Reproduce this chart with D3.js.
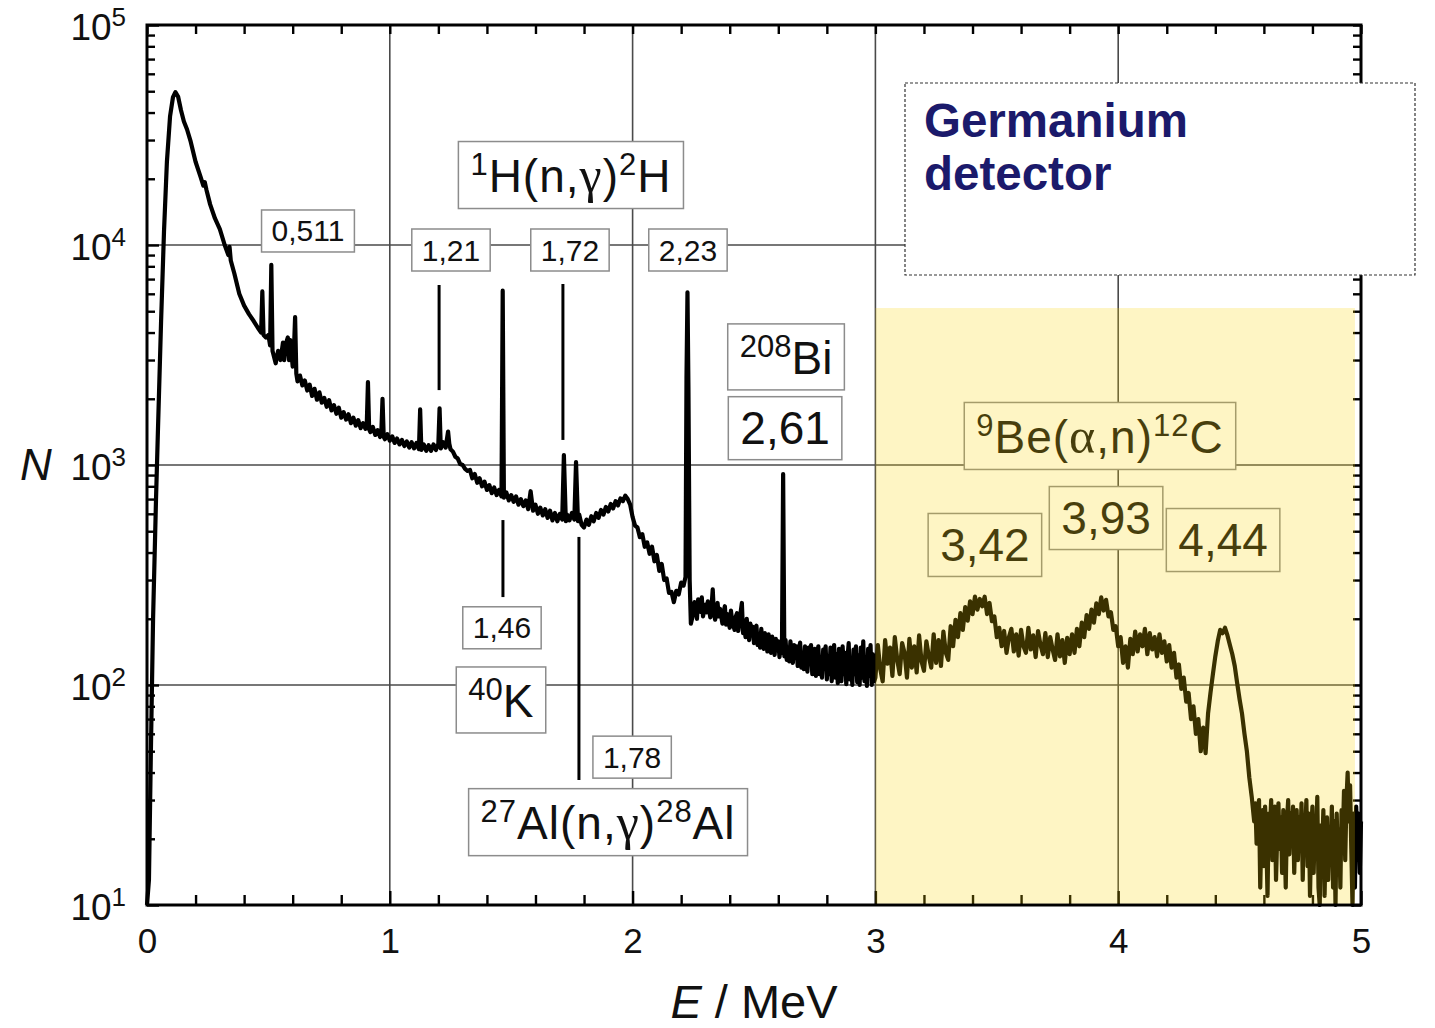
<!DOCTYPE html>
<html>
<head>
<meta charset="utf-8">
<script src="https://cdn.jsdelivr.net/npm/d3@7"></script>
<style>
  body { margin: 0; background: #fff; }
</style>
</head>
<body>
<svg id="chart" width="1435" height="1028"></svg>
<script>
// ---- data ----
const xTicks = [0, 1, 2, 3, 4, 5];
const xMinorTicks = [0.2, 0.4, 0.6, 0.8, 1.2, 1.4, 1.6, 1.8, 2.2, 2.4, 2.6, 2.8, 3.2, 3.4, 3.6, 3.8, 4.2, 4.4, 4.6, 4.8];
const yTicks = [10, 100, 1000, 10000, 100000];
const yTickExp = ["1", "2", "3", "4", "5"];

// spectrum [E in MeV, counts N]
const spectrumLow = [
  [0, 10], [0.008, 13], [0.016, 50], [0.025, 200], [0.037, 690], [0.045, 1430], [0.058, 4500],
  [0.07, 11500], [0.082, 23900], [0.095, 38500], [0.107, 47000], [0.117, 49500], [0.128, 47300],
  [0.14, 41000], [0.152, 36400], [0.165, 33500], [0.18, 29500], [0.2, 23900], [0.22, 20500],
  [0.232, 18600], [0.238, 19300], [0.245, 17800], [0.26, 15300], [0.28, 13200], [0.30, 11800],
  [0.32, 10000], [0.335, 9000], [0.34, 9800], [0.345, 8500], [0.36, 7400], [0.38, 6000],
  [0.40, 5300], [0.42, 4850], [0.44, 4500], [0.46, 4150], [0.47, 4000], [0.475, 6150],
  [0.48, 3900], [0.49, 3800], [0.50, 3900], [0.507, 3500], [0.512, 8130], [0.517, 3300],
  [0.52, 3200], [0.53, 2900], [0.54, 3300], [0.55, 3000], [0.56, 3600], [0.565, 3000],
  [0.57, 3500], [0.58, 3800], [0.585, 3000], [0.59, 3700], [0.60, 2800], [0.605, 3300],
  [0.61, 4700], [0.615, 2600], [0.62, 2400]
];
const spectrumMid = [
  [0.63, 2550], [0.64, 2300], [0.65, 2420], [0.66, 2180], [0.67, 2320], [0.68, 2060], [0.69, 2220],
  [0.70, 1980], [0.71, 2140], [0.72, 1920], [0.73, 2020], [0.74, 1840], [0.75, 1970], [0.76, 1770],
  [0.77, 1870], [0.78, 1710], [0.79, 1820], [0.80, 1640], [0.81, 1740], [0.82, 1610], [0.83, 1700],
  [0.84, 1550], [0.85, 1640], [0.86, 1510], [0.87, 1600], [0.88, 1470], [0.89, 1550], [0.90, 1460],
  [0.905, 1510], [0.91, 2380], [0.915, 1450], [0.92, 1410], [0.93, 1490], [0.94, 1370], [0.95, 1440],
  [0.96, 1340], [0.965, 1400], [0.97, 2000], [0.975, 1340], [0.98, 1310], [0.99, 1380], [1.00, 1290],
  [1.01, 1350], [1.02, 1260], [1.03, 1320], [1.04, 1240], [1.05, 1300], [1.06, 1220], [1.07, 1280],
  [1.08, 1200], [1.09, 1270], [1.10, 1190], [1.11, 1260], [1.12, 1180], [1.125, 1790], [1.13, 1170],
  [1.14, 1240], [1.15, 1160], [1.16, 1230], [1.17, 1160], [1.18, 1240], [1.19, 1170], [1.20, 1250],
  [1.205, 1810], [1.21, 1190], [1.22, 1270], [1.23, 1200], [1.24, 1420], [1.245, 1250], [1.25, 1180],
  [1.26, 1150], [1.27, 1090], [1.28, 1070], [1.29, 1010], [1.30, 1000], [1.31, 960], [1.32, 940],
  [1.33, 950], [1.34, 870], [1.35, 910], [1.36, 830], [1.37, 870], [1.38, 800], [1.39, 840],
  [1.40, 770], [1.41, 810], [1.42, 745], [1.43, 790], [1.44, 730], [1.45, 770], [1.46, 720],
  [1.465, 6200], [1.47, 710], [1.48, 750], [1.49, 690], [1.50, 730], [1.51, 680], [1.52, 720],
  [1.53, 660], [1.54, 700], [1.55, 650], [1.56, 690], [1.57, 630], [1.58, 760], [1.59, 620],
  [1.60, 660], [1.61, 600], [1.62, 640], [1.63, 590], [1.64, 630], [1.65, 575], [1.66, 620],
  [1.67, 560], [1.68, 605], [1.69, 555], [1.70, 600], [1.71, 565], [1.717, 1110], [1.725, 555],
  [1.73, 595], [1.74, 560], [1.75, 605], [1.76, 565], [1.767, 1030], [1.775, 555], [1.78, 595],
  [1.79, 535], [1.80, 520], [1.81, 565], [1.82, 535], [1.83, 585], [1.84, 555], [1.85, 605],
  [1.86, 575], [1.87, 625], [1.88, 595], [1.89, 645], [1.90, 615], [1.91, 665], [1.92, 635],
  [1.93, 685], [1.94, 655], [1.95, 705], [1.96, 685], [1.97, 725], [1.98, 700], [1.99, 660],
  [2.00, 580], [2.01, 530], [2.02, 520], [2.03, 470], [2.04, 485], [2.05, 425], [2.06, 445],
  [2.07, 395], [2.08, 425], [2.09, 365], [2.10, 390], [2.11, 330], [2.12, 355], [2.13, 300],
  [2.14, 305], [2.15, 262], [2.16, 265], [2.17, 238], [2.18, 268], [2.19, 258], [2.20, 292],
  [2.21, 283], [2.218, 310], [2.222, 2500], [2.226, 6100], [2.23, 2200], [2.235, 300], [2.24, 190]
];
const spectrumHigh = [
  [2.25, 212], [2.255, 238], [2.26, 228], [2.265, 200], [2.27, 245], [2.28, 215], [2.285, 250],
  [2.29, 205], [2.30, 232], [2.305, 214], [2.31, 240], [2.32, 203], [2.325, 226], [2.33, 272],
  [2.335, 210], [2.34, 198], [2.35, 236], [2.355, 205], [2.36, 222], [2.37, 190], [2.375, 215],
  [2.38, 228], [2.385, 188], [2.39, 210], [2.40, 182], [2.405, 218], [2.41, 196], [2.42, 178],
  [2.425, 205], [2.43, 212], [2.435, 176], [2.44, 195], [2.45, 236], [2.455, 172], [2.46, 190],
  [2.465, 165], [2.47, 200], [2.475, 175], [2.48, 160], [2.485, 190], [2.49, 168], [2.495, 184],
  [2.50, 155], [2.505, 178], [2.51, 186], [2.515, 152], [2.52, 170], [2.525, 148], [2.53, 180],
  [2.535, 158], [2.54, 146], [2.545, 172], [2.55, 164], [2.555, 142], [2.56, 170], [2.565, 150],
  [2.57, 140], [2.575, 166], [2.58, 155], [2.585, 137], [2.59, 162], [2.595, 146], [2.60, 158],
  [2.605, 134], [2.61, 150], [2.615, 140], [2.62, 910], [2.625, 135], [2.63, 160], [2.635, 130],
  [2.64, 148], [2.645, 128], [2.65, 158], [2.655, 140], [2.66, 126], [2.665, 152], [2.67, 135],
  [2.675, 150], [2.68, 122], [2.685, 144], [2.69, 156], [2.695, 120], [2.70, 140], [2.705, 118],
  [2.71, 150], [2.715, 130], [2.72, 115], [2.725, 148], [2.73, 125], [2.735, 152], [2.74, 112],
  [2.745, 138], [2.75, 146], [2.755, 110], [2.76, 132], [2.765, 150], [2.77, 112], [2.775, 128],
  [2.78, 108], [2.785, 145], [2.79, 120], [2.795, 150], [2.80, 106], [2.805, 135], [2.81, 112],
  [2.815, 148], [2.82, 104], [2.825, 130], [2.83, 152], [2.835, 108], [2.84, 138], [2.845, 102],
  [2.85, 146], [2.855, 118], [2.86, 104], [2.865, 150], [2.87, 112], [2.875, 140], [2.88, 101],
  [2.885, 132], [2.89, 155], [2.895, 106], [2.90, 128], [2.905, 100], [2.91, 145], [2.915, 112],
  [2.92, 150], [2.925, 103], [2.93, 136], [2.935, 100], [2.94, 148], [2.945, 108], [2.95, 158],
  [2.955, 104], [2.96, 130], [2.965, 99], [2.97, 146], [2.975, 110], [2.98, 152], [2.985, 100],
  [2.99, 138], [2.995, 104],
  [3.00, 108], [3.01, 152], [3.02, 118], [3.03, 104], [3.04, 160], [3.05, 125], [3.06, 148],
  [3.07, 110], [3.08, 165], [3.09, 130], [3.10, 112], [3.11, 155], [3.12, 140], [3.13, 108],
  [3.14, 162], [3.15, 120], [3.16, 150], [3.17, 114], [3.18, 168], [3.19, 128], [3.20, 116],
  [3.21, 158], [3.22, 135], [3.23, 120], [3.24, 170], [3.25, 126], [3.26, 160], [3.27, 122],
  [3.28, 175], [3.29, 140], [3.30, 130], [3.31, 185], [3.32, 150], [3.33, 198], [3.34, 165],
  [3.35, 212], [3.36, 178], [3.37, 226], [3.38, 196], [3.39, 240], [3.40, 210], [3.41, 252],
  [3.42, 220], [3.43, 246], [3.44, 228], [3.45, 252], [3.46, 210], [3.47, 236], [3.48, 195],
  [3.49, 205], [3.50, 165], [3.51, 182], [3.52, 150], [3.53, 176], [3.54, 140], [3.55, 165],
  [3.56, 180], [3.57, 142], [3.58, 170], [3.59, 136], [3.60, 178], [3.61, 150], [3.62, 140],
  [3.63, 182], [3.64, 145], [3.65, 168], [3.66, 134], [3.67, 176], [3.68, 152], [3.69, 138],
  [3.70, 172], [3.71, 134], [3.72, 165], [3.73, 145], [3.74, 130], [3.75, 170], [3.76, 135],
  [3.77, 160], [3.78, 126], [3.79, 164], [3.80, 138], [3.81, 170], [3.82, 140], [3.83, 180],
  [3.84, 150], [3.85, 192], [3.86, 165], [3.87, 208], [3.88, 180], [3.89, 220], [3.90, 192],
  [3.91, 235], [3.92, 210], [3.93, 250], [3.94, 218], [3.95, 244], [3.96, 205], [3.97, 214],
  [3.98, 178], [3.99, 185], [4.00, 150], [4.01, 165], [4.02, 126], [4.03, 150], [4.04, 120],
  [4.05, 162], [4.06, 138], [4.07, 175], [4.08, 142], [4.09, 170], [4.10, 150], [4.11, 180],
  [4.12, 138], [4.13, 172], [4.14, 145], [4.15, 165], [4.16, 135], [4.17, 170], [4.18, 140],
  [4.19, 158], [4.20, 128], [4.21, 152], [4.22, 120], [4.23, 140], [4.24, 108], [4.25, 124],
  [4.26, 96], [4.27, 108], [4.28, 84], [4.29, 92], [4.30, 70], [4.31, 80], [4.32, 60],
  [4.33, 70], [4.34, 50], [4.35, 64], [4.36, 49], [4.37, 74], [4.38, 92], [4.39, 112],
  [4.40, 135], [4.41, 158], [4.42, 178], [4.43, 172], [4.44, 182], [4.45, 168], [4.46, 152],
  [4.47, 138], [4.48, 122], [4.49, 102], [4.50, 86], [4.51, 74], [4.52, 60], [4.53, 50],
  [4.54, 38], [4.55, 31], [4.56, 24], [4.565, 29], [4.57, 19], [4.575, 26], [4.58, 30],
  [4.585, 12], [4.59, 22], [4.595, 27], [4.60, 15], [4.605, 28], [4.61, 20], [4.615, 11],
  [4.62, 26], [4.625, 22], [4.63, 30], [4.635, 16], [4.64, 24], [4.645, 28], [4.65, 13],
  [4.655, 21], [4.66, 29], [4.665, 18], [4.67, 25], [4.675, 14], [4.68, 27], [4.685, 22],
  [4.69, 12], [4.695, 24], [4.70, 30], [4.705, 17], [4.71, 26], [4.715, 20], [4.72, 28],
  [4.725, 14], [4.73, 23], [4.735, 27], [4.74, 16], [4.745, 25], [4.75, 19], [4.755, 29],
  [4.76, 13], [4.765, 24], [4.77, 21], [4.775, 30], [4.78, 15], [4.785, 26], [4.79, 11],
  [4.795, 22], [4.80, 28], [4.805, 14], [4.81, 24], [4.815, 20], [4.82, 31], [4.825, 12],
  [4.83, 10], [4.835, 23], [4.84, 18], [4.845, 27], [4.85, 11], [4.855, 21], [4.86, 25],
  [4.865, 13], [4.87, 22], [4.875, 17], [4.88, 28], [4.885, 12], [4.89, 24], [4.895, 10],
  [4.90, 26], [4.905, 15], [4.91, 22], [4.915, 12], [4.92, 27], [4.925, 20], [4.93, 33],
  [4.935, 16], [4.94, 30], [4.945, 40], [4.95, 24], [4.955, 35], [4.96, 18], [4.965, 10],
  [4.97, 26], [4.975, 12], [4.98, 28], [4.985, 20], [4.99, 26], [4.995, 14], [5.00, 24]
];

// peak marker lines [E, N from, N to]
const markerLines = [[1.203, 2190, 6580], [1.713, 1300, 6650], [1.466, 251, 562], [1.779, 37, 471]];

// annotation texts ({..} = superscript) and where they sit [E, N]
const labelTexts = ["0,511", "1,21", "1,72", "2,23", "{1}H(n,γ){2}H", "{208}Bi", "2,61",
  "1,46", "{40}K", "1,78", "{27}Al(n,γ){28}Al", "{9}Be(α,n){12}C", "3,42", "3,93", "4,44"];
const labelAnchors = [[0.663, 11580], [1.252, 9490], [1.742, 9490], [2.228, 9490], [1.746, 20800],
  [2.632, 3100], [2.628, 1470], [1.462, 182], [1.458, 85.5], [1.998, 47], [1.899, 23.8],
  [3.925, 1355], [3.451, 433], [3.950, 574], [4.432, 456]];
const labelBig = [false, false, false, false, true, true, true, false, true, false, true, true, true, true, true];

const alphaRegion = [3, 4.975, 5170];   // E from, E to, top N

// ---- drawing ----
const font = "'Liberation Sans', Arial, sans-serif";
const svg = d3.select("#chart");

const x = d3.scaleLinear().domain([0, 5]).range([147, 1361]);
const y = d3.scaleLog().domain([10, 1e5]).range([905, 25]);

// grid
const grid = svg.append("g").attr("stroke", "#4a4a4a").attr("stroke-width", 1.6);
grid.selectAll(".vg").data([1, 2, 3, 4]).join("line")
  .attr("x1", d => x(d)).attr("x2", d => x(d))
  .attr("y1", y(1e5)).attr("y2", y(10));
grid.selectAll(".hg").data([100, 1000, 10000]).join("line")
  .attr("x1", x(0)).attr("x2", x(5))
  .attr("y1", d => y(d)).attr("y2", d => y(d));

// marker lines
svg.append("g").selectAll("line").data(markerLines).join("line")
  .attr("x1", d => x(d[0])).attr("x2", d => x(d[0]))
  .attr("y1", d => y(d[1])).attr("y2", d => y(d[2]))
  .attr("stroke", "#000").attr("stroke-width", 3);

// spectrum
const spectrum = spectrumLow.concat(spectrumMid, spectrumHigh);
const line = d3.line().x(d => x(d[0])).y(d => y(d[1]));
svg.append("path").datum(spectrum)
  .attr("d", line)
  .attr("fill", "none")
  .attr("stroke", "#000")
  .attr("stroke-width", 4.2)
  .attr("stroke-linejoin", "round");

// labels
function parseLabel(str) {
  return str.split(/(\{[^}]*\}|[γα])/).filter(s => s.length).map(s => {
    if (s[0] === "{") return {t: s.slice(1, -1), sup: true};
    if (s === "γ" || s === "α") return {t: s, greek: true};
    return {t: s};
  });
}

labelTexts.forEach((txt, i) => {
  const big = labelBig[i];
  const size = big ? 46 : 30;
  const supSize = big ? 31 : 22;
  const rise = big ? 17 : 11;
  const wide = /[γα]/.test(txt);
  const g = svg.append("g");
  const rect = g.append("rect");
  const t = g.append("text")
    .attr("font-family", font)
    .attr("font-size", size)
    .attr("letter-spacing", wide ? 1 : 0)
    .attr("fill", "#111");
  let up = false;
  parseLabel(txt).forEach(p => {
    const ts = t.append("tspan").text(p.t);
    if (p.sup) {
      ts.attr("font-size", supSize).attr("dy", up ? 0 : -rise);
      up = true;
    } else {
      if (up) { ts.attr("dy", rise); up = false; }
      if (p.greek) ts.attr("font-family", "'Liberation Serif', 'DejaVu Serif', serif").attr("font-size", 50);
    }
  });
  const bb = t.node().getBBox();
  const padX = big ? 12 : 10;
  const padY = big ? 5.5 : 4.5;
  rect.attr("x", bb.x - padX).attr("y", bb.y - padY)
    .attr("width", bb.width + 2 * padX).attr("height", bb.height + 2 * padY)
    .attr("fill", "#fff").attr("stroke", "#8c8c8c").attr("stroke-width", 1.5);
  const cx = bb.x + bb.width / 2, cy = bb.y + bb.height / 2;
  g.attr("transform", `translate(${x(labelAnchors[i][0]) - cx},${y(labelAnchors[i][1]) - cy})`);
});

// axes
function styleAxis(sel) {
  sel.select(".domain").remove();
  sel.selectAll(".tick line").attr("stroke", "#000").attr("stroke-width", 2.4);
}
svg.append("g").attr("transform", `translate(0,${y(10)})`)
  .call(d3.axisBottom(x).tickValues(xMinorTicks).tickSize(-10).tickFormat(""))
  .call(styleAxis);
svg.append("g").attr("transform", `translate(0,${y(1e5)})`)
  .call(d3.axisTop(x).tickValues(xMinorTicks.concat(xTicks)).tickSize(-9).tickFormat(""))
  .call(styleAxis);
const xAxis = svg.append("g").attr("transform", `translate(0,${y(10)})`)
  .call(d3.axisBottom(x).tickValues(xTicks).tickSize(-14).tickPadding(23).tickFormat(d => d))
  .call(styleAxis);
xAxis.selectAll("text").attr("font-family", font).attr("font-size", 35).attr("fill", "#111");

const yMinor = [];
[10, 100, 1000, 10000].forEach(dec => [2, 3, 4, 5, 6, 7, 8, 9].forEach(m => yMinor.push(dec * m)));
svg.append("g").attr("transform", `translate(${x(0)},0)`)
  .call(d3.axisLeft(y).tickValues(yMinor).tickSize(-8).tickFormat(""))
  .call(styleAxis);
svg.append("g").attr("transform", `translate(${x(5)},0)`)
  .call(d3.axisRight(y).tickValues(yMinor.concat(yTicks)).tickSize(-8).tickFormat(""))
  .call(styleAxis);
const yAxis = svg.append("g").attr("transform", `translate(${x(0)},0)`)
  .call(d3.axisLeft(y).tickValues(yTicks).tickSize(-12).tickFormat(""))
  .call(styleAxis);
yAxis.selectAll(".tick").each(function (d, i) {
  const t = d3.select(this).append("text")
    .attr("x", -21).attr("y", 14)
    .attr("text-anchor", "end")
    .attr("font-family", font).attr("fill", "#111");
  t.append("tspan").attr("font-size", 37).text("10");
  t.append("tspan").attr("font-size", 26).attr("dy", -14).text(yTickExp[i]);
});

// frame
svg.append("rect")
  .attr("x", x(0)).attr("y", y(1e5))
  .attr("width", x(5) - x(0)).attr("height", y(10) - y(1e5))
  .attr("fill", "none").attr("stroke", "#000").attr("stroke-width", 3);

// axis titles
svg.append("text").attr("x", 20).attr("y", 480)
  .attr("font-family", font).attr("font-size", 44).attr("font-style", "italic")
  .attr("fill", "#111").text("N");
const xt = svg.append("text").attr("x", 754).attr("y", 1018).attr("text-anchor", "middle")
  .attr("font-family", font).attr("font-size", 47).attr("fill", "#111");
xt.append("tspan").attr("font-style", "italic").text("E");
xt.append("tspan").text(" / MeV");

// yellow alpha-source region (translucent overlay)
svg.append("rect")
  .attr("x", x(alphaRegion[0])).attr("y", y(alphaRegion[2]))
  .attr("width", x(alphaRegion[1]) - x(alphaRegion[0]))
  .attr("height", y(10) - y(alphaRegion[2]) - 1.5)
  .attr("fill", "#fcd500").attr("opacity", 0.23);

// detector note
const note = svg.append("g");
note.append("rect").attr("x", 905).attr("y", 83).attr("width", 510).attr("height", 192)
  .attr("fill", "#fff").attr("stroke", "#333").attr("stroke-width", 1.2)
  .attr("stroke-dasharray", "3,2");
note.append("text").attr("x", 924).attr("y", 137)
  .attr("font-family", font).attr("font-size", 47.5).attr("font-weight", "bold")
  .attr("fill", "#1b1a6b").text("Germanium");
note.append("text").attr("x", 924).attr("y", 190)
  .attr("font-family", font).attr("font-size", 47.5).attr("font-weight", "bold")
  .attr("fill", "#1b1a6b").text("detector");
</script>
</body>
</html>
